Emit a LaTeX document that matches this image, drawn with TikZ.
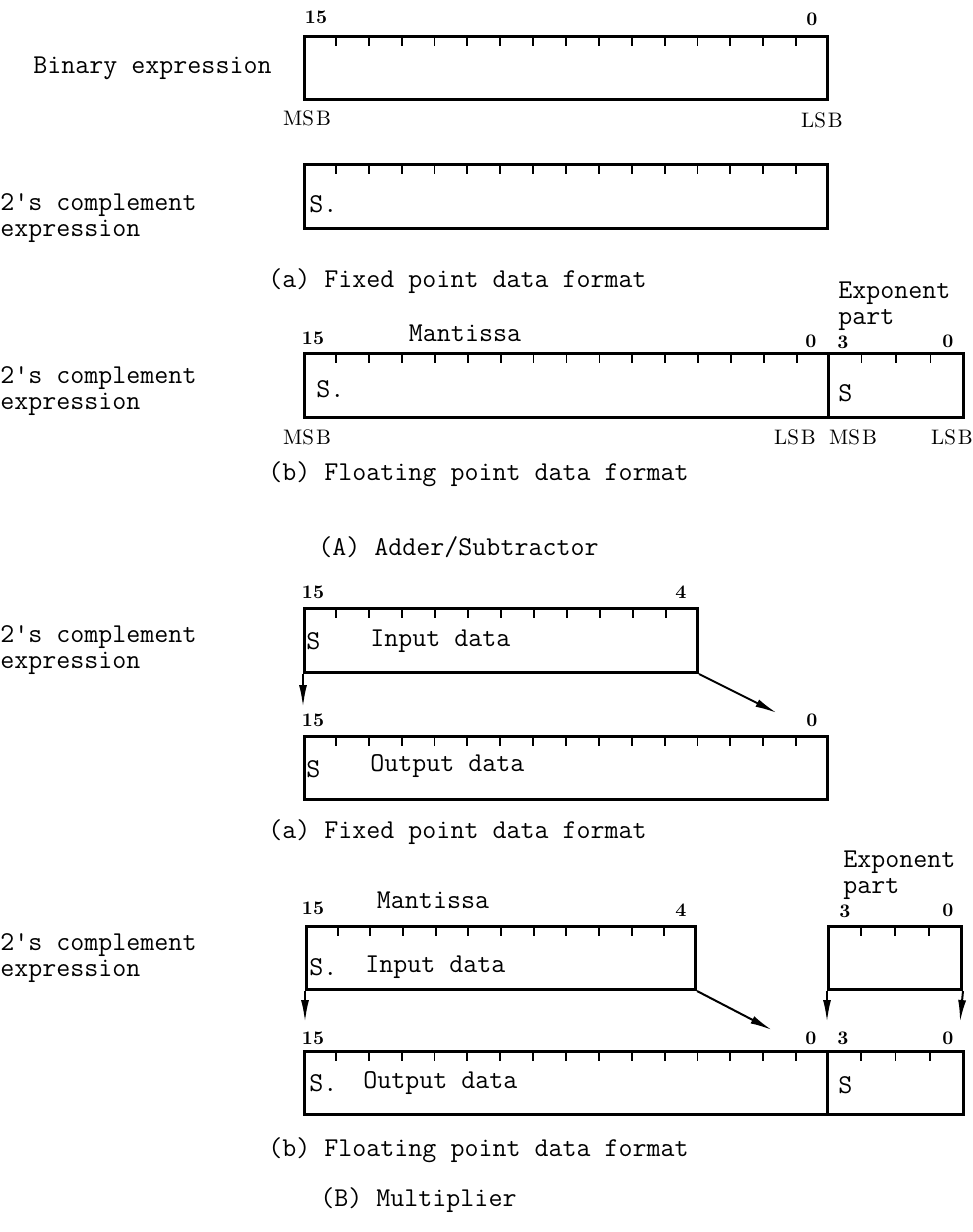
\documentclass[tikz,border=0pt]{standalone}
\usetikzlibrary{arrows.meta,calc}
\tikzset{
  reg/.style={draw, line width=1.5pt, inner sep=0pt, anchor=north west},
  tck/.style={line width=0.9pt},
  lbl/.style={font=\ttfamily\fontsize{13.6}{16}\selectfont, inner sep=0pt, anchor=west},
  num/.style={font=\bfseries\fontsize{9.6}{11}\selectfont, inner sep=0pt},
  sb/.style={font=\fontsize{10.5}{12}\selectfont, inner sep=0pt},
  arr/.style={line width=1pt, -{Latex[length=11pt,width=4pt]}},
}
\newcommand\regticks[2]{%
  \pgfmathtruncatemacro\nlast{#2-1}%
  \foreach \i in {1,...,\nlast}{\draw[tck] ($(#1.north west)!{\i/#2}!(#1.north east)$) -- ++(0,11);}}
\newcommand\msb{MS\kern1pt B}
\newcommand\lsb{LS\kern1pt B}
\begin{document}
\begin{tikzpicture}[x=0.5pt,y=-0.5pt]
\useasboundingbox (0,0) rectangle (973,1232);
\fill[white] (0,0) rectangle (973,1232);

% ---------- (A) (a) binary / 2's complement
\node[num] (n15a) at (316,17) {15};
\node[num] (n0a) at (812,19) {0};
\node[reg, minimum width=261.5pt, minimum height=31.5pt] (b1) at (303,35) {};
\regticks{b1}{16}
\node[lbl] (t1) at (33,68) {Binary expression};
\node[sb] (m1) at (307,118) {\msb};
\node[sb] (l1) at (822,120) {\lsb};

\node[reg, minimum width=261.5pt, minimum height=32pt] (b2) at (303,163) {};
\regticks{b2}{16}
\node[lbl] (s2) at (309,204) {S.};
\node[lbl] (t2a) at (0,205) {2's complement};
\node[lbl] (t2b) at (0,231) {expression};
\node[lbl] (cap1) at (268,281) {(a) Fixed point data format};

% ---------- (A) (b) floating
\node[lbl] (e3a) at (838,293) {Exponent};
\node[lbl] (e3b) at (838,320) {part};
\node[lbl, anchor=center] (ma3) at (465,333) {Mantissa};
\node[num] (n15b) at (313,338) {15};
\node[num] (n0b) at (811,341) {0};
\node[num] (n3b) at (843,342) {3};
\node[num] (n0c) at (948,341) {0};
\node[reg, minimum width=262pt, minimum height=32pt] (b3m) at (303,352) {};
\node[reg, minimum width=67.5pt, minimum height=32pt] (b3e) at (827,352) {};
\regticks{b3m}{16}
\regticks{b3e}{4}
\node[lbl] (s3) at (316,389) {S.};
\node[lbl] (s3e) at (838,393) {S};
\node[lbl] (t3a) at (0,378) {2's complement};
\node[lbl] (t3b) at (0,404) {expression};
\node[sb] (m3) at (307,437) {\msb};
\node[sb] (l3) at (795,437) {\lsb};
\node[sb] (m3e) at (853,437) {\msb};
\node[sb] (l3e) at (952,437) {\lsb};
\node[lbl] (cap2) at (268,474) {(b) Floating point data format};
\node[lbl] (capA) at (318,547) {(A) Adder/Subtractor};

% ---------- (B) (a) fixed
\node[num] (n15c) at (313,592) {15};
\node[num] (n4c) at (681,592) {4};
\node[reg, minimum width=196.5pt, minimum height=32pt] (in1) at (303,607) {};
\regticks{in1}{12}
\node[lbl] (s4) at (306,641) {S};
\node[lbl] (id1) at (370,641) {Input data};
\node[lbl] (t4a) at (0,637) {2's complement};
\node[lbl] (t4b) at (0,663) {expression};
\coordinate (a1) at (303,707);
\coordinate (a2) at (777,713);
\draw[arr] (in1.south west) -- (a1);
\draw[arr] (in1.south east) -- (a2);
\node[num] (n15d) at (313,720) {15};
\node[num] (n0d) at (812,720) {0};
\node[reg, minimum width=261.5pt, minimum height=31.5pt] (out1) at (303,735) {};
\regticks{out1}{16}
\node[lbl] (s5) at (306,769) {S};
\node[lbl] (od1) at (370,766) {Output data};
\node[lbl] (cap3) at (268,832) {(a) Fixed point data format};

% ---------- (B) (b) floating
\node[lbl] (e6a) at (843,862) {Exponent};
\node[lbl] (e6b) at (843,889) {part};
\node[lbl, anchor=center] (ma6) at (433,900) {Mantissa};
\node[num] (n15e) at (313,908) {15};
\node[num] (n4e) at (681,910) {4};
\node[num] (n3e) at (845,911) {3};
\node[num] (n0e) at (948,910) {0};
\node[reg, minimum width=194.5pt, minimum height=31.5pt] (in2) at (305,925) {};
\node[reg, minimum width=66.5pt, minimum height=31.5pt] (in2e) at (827,925) {};
\regticks{in2}{12}
\regticks{in2e}{4}
\node[lbl] (s6) at (309,967) {S.};
\node[lbl] (id2) at (365,967) {Input data};
\node[lbl] (t6a) at (0,945) {2's complement};
\node[lbl] (t6b) at (0,971) {expression};
\coordinate (a3) at (305,1022);
\coordinate (a4) at (772,1030);
\coordinate (a5) at (827,1022);
\coordinate (a6) at (960,1022);
\draw[arr] (in2.south west) -- (a3);
\draw[arr] (in2.south east) -- (a4);
\draw[arr] (in2e.south west) -- (a5);
\draw[arr] (in2e.south east) -- (a6);
\node[num] (n15f) at (313,1038) {15};
\node[num] (n0f) at (811,1038) {0};
\node[num] (n3f) at (843,1038) {3};
\node[num] (n0g) at (948,1038) {0};
\node[reg, minimum width=261.5pt, minimum height=31.5pt] (out2) at (303,1050) {};
\node[reg, minimum width=68pt, minimum height=31.5pt] (out2e) at (826,1050) {};
\regticks{out2}{16}
\regticks{out2e}{4}
\node[lbl] (s7) at (309,1083) {S.};
\node[lbl] (od2) at (363,1083) {Output data};
\node[lbl] (s7e) at (838,1085) {S};
\node[lbl] (cap4) at (268,1150) {(b) Floating point data format};
\node[lbl] (capB) at (320,1200) {(B) Multiplier};
\end{tikzpicture}
\end{document}
